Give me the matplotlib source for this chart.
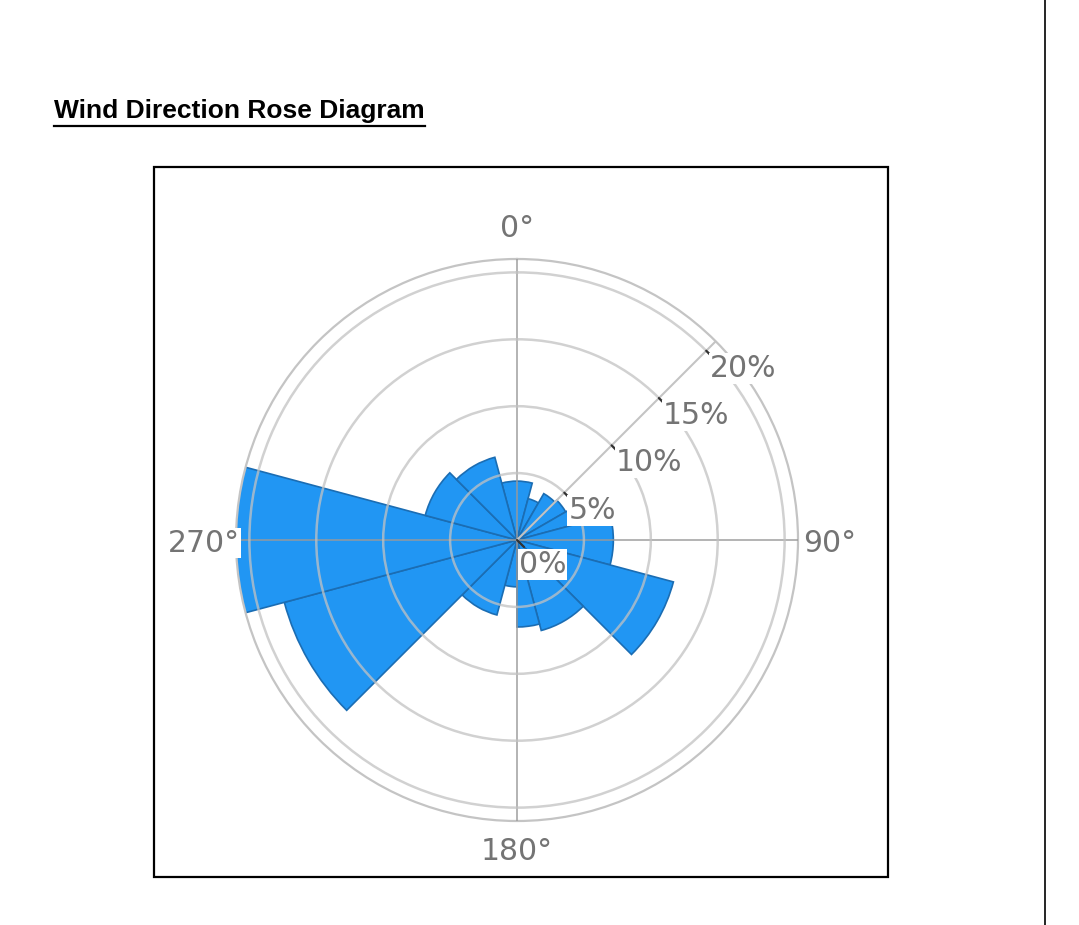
import numpy as np
import matplotlib
matplotlib.use("Agg")
import matplotlib.pyplot as plt
from matplotlib.patches import Rectangle
from matplotlib.lines import Line2D

# ---- data (wind direction sectors, degrees from north, clockwise; frequency in %) ----
sector_start = [345, 15, 30, 45, 60, 75, 105, 135, 165, 180, 195, 225, 255, 285, 315]
sector_end   = [375, 30, 45, 60, 75, 105, 135, 165, 180, 195, 225, 255, 285, 315, 345]
frequency    = [4.4, 3.2, 4.0, 4.2, 4.6, 7.2, 12.1, 7.0, 6.5, 3.5, 5.8, 18.0, 23.0, 7.1, 6.4]
angle_labels = ["0°", "90°", "180°", "270°"]
angle_ticks = [0, 90, 180, 270]
radial_ticks = [0, 5, 10, 15, 20]
radial_labels = ["0%", "5%", "10%", "15%", "20%"]
title_text = "Wind Direction Rose Diagram"

W, H = 1079, 925
fig = plt.figure(figsize=(W / 100, H / 100), dpi=100)
fig.patch.set_facecolor("white")

def fx(x):
    return x / W

def fy(y):
    return 1 - y / H

# page decorations
fig.add_artist(Rectangle((fx(154), fy(877)), fx(888) - fx(154), fy(167) - fy(877),
                         transform=fig.transFigure, fill=False, edgecolor="black", lw=1.6))
fig.add_artist(Line2D([fx(1045), fx(1045)], [0, 1], transform=fig.transFigure,
                      color="black", lw=1.2))

t = fig.text(fx(54), fy(118), title_text, ha="left", va="baseline",
             fontsize=19, fontweight="bold", family=["Liberation Sans", "DejaVu Sans"])

# polar axes
cx, cy, R = 517, 540, 281
rmax = 21
ax = fig.add_axes([fx(cx - R), fy(cy + R), 2 * R / W, 2 * R / H], projection="polar")
ax.set_theta_zero_location("N")
ax.set_theta_direction(-1)
ax.set_facecolor("none")

starts = np.array(sector_start, dtype=float)
ends = np.array(sector_end, dtype=float)
centers = np.radians((starts + ends) / 2)
widths = np.radians(ends - starts)
ax.bar(centers, frequency, width=widths, bottom=0, align="center",
       color="#2196F3", edgecolor="#1b6db3", linewidth=1.2, zorder=1)

ax.set_ylim(0, rmax)
ax.set_xticks(np.radians(angle_ticks))
ax.set_xticklabels([])
ax.set_yticks(radial_ticks[1:])
ax.set_yticklabels([])
ax.tick_params(axis="both", length=0)
ax.set_axisbelow(False)
ax.xaxis.grid(True, color="#9a9a9a", lw=1.4, alpha=0.75)
ax.yaxis.grid(True, color="#c2c2c2", lw=1.8, alpha=0.75)
ax.spines["polar"].set_color("#c4c4c4")
ax.spines["polar"].set_linewidth(1.6)

# radial axis line at 45 degrees
th45 = np.radians(45)
ax.plot([th45, th45], [0, rmax], color="#c4c4c4", lw=1.5, zorder=2.6)

lab_kw = dict(fontsize=21.5, color="#747474", family="DejaVu Sans", zorder=5,
              annotation_clip=False)
bbox_kw = dict(facecolor="white", edgecolor="none", pad=0.6)

for r, lab in zip(radial_ticks, radial_labels):
    ax.annotate("", xy=(th45, r), xytext=(7, -7), textcoords="offset pixels",
                arrowprops=dict(arrowstyle="-", color="#333333", lw=1.6,
                                shrinkA=0, shrinkB=0), zorder=4, annotation_clip=False)
    off = (2, -10) if r == 0 else (4, -3)
    ax.annotate(lab, xy=(th45, r), xytext=off, textcoords="offset pixels",
                ha="left", va="top", bbox=bbox_kw, **lab_kw)

# angular labels
ang_pos = {0: ((0, 16), "center", "bottom"),
           90: ((5, 0), "left", "center_baseline"),
           180: ((0, -16), "center", "top"),
           270: ((4, 0), "right", "center_baseline")}
for a, lab in zip(angle_ticks, angle_labels):
    off, ha, va = ang_pos[a]
    ax.annotate(lab, xy=(np.radians(a), rmax), xytext=off, textcoords="offset pixels",
                ha=ha, va=va, bbox=bbox_kw, **lab_kw)

# underline for the title
fig.canvas.draw()
bb = t.get_window_extent()
uy = bb.y0 - 3
fig.add_artist(Line2D([bb.x0 / W, bb.x1 / W], [uy / H, uy / H],
                      transform=fig.transFigure, color="black", lw=1.6))

fig.savefig("out.png", dpi=100, facecolor="white")
